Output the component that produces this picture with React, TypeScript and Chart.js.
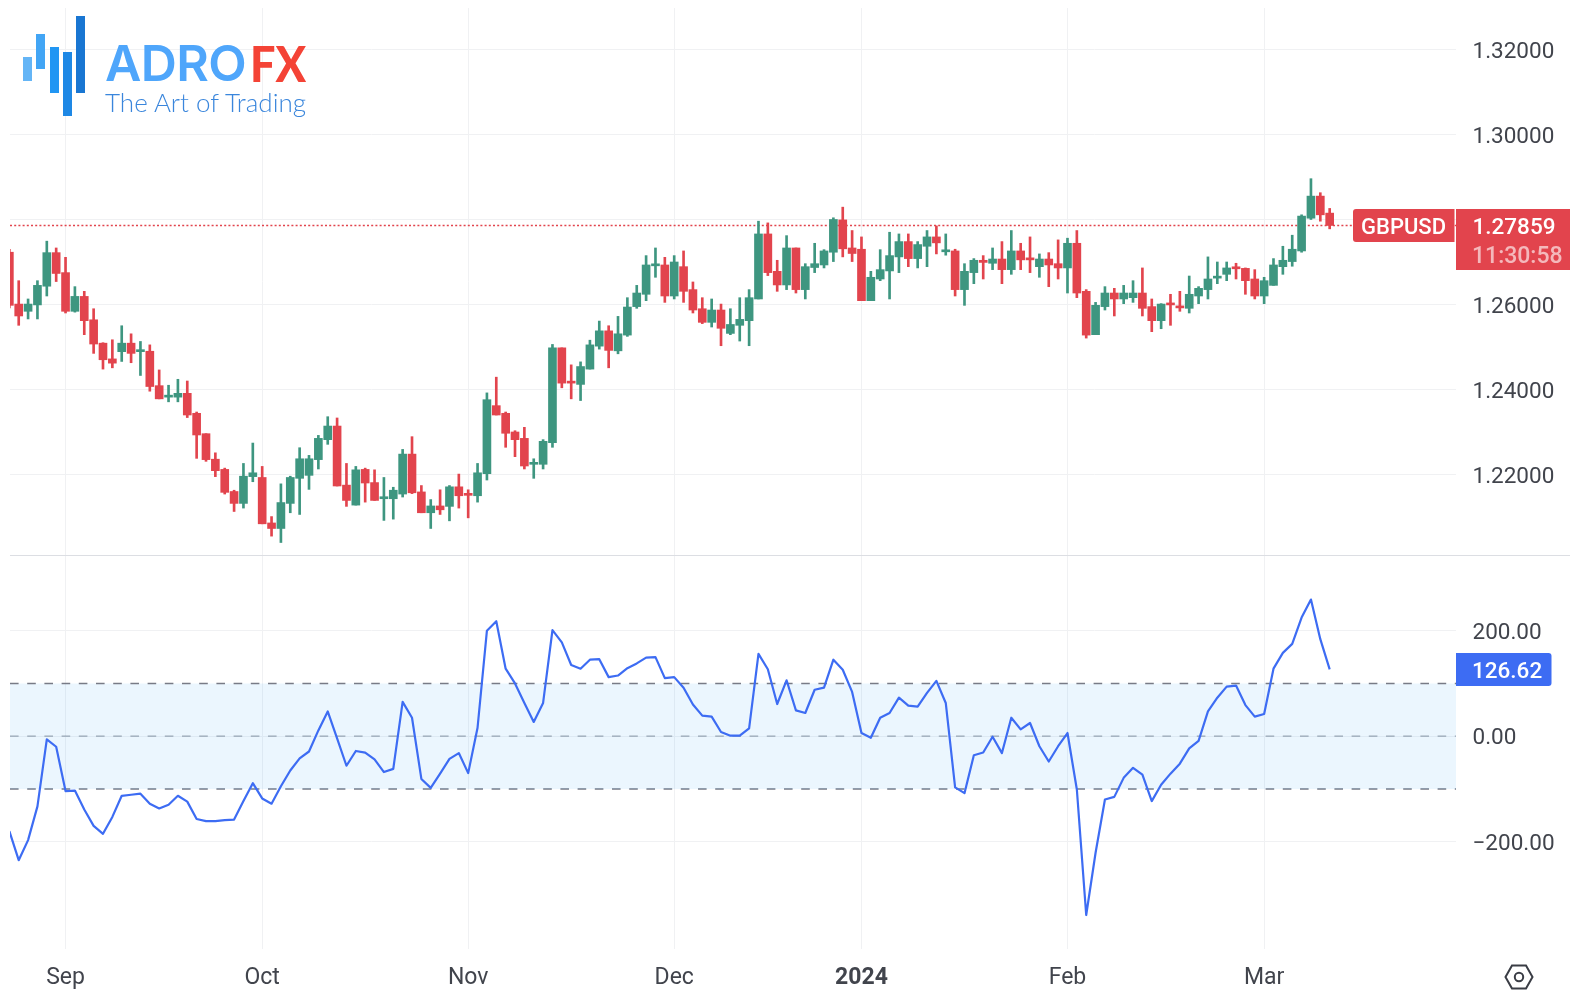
import React, { useEffect, useRef } from "react";
import { Chart, registerables } from "chart.js";

Chart.register(...registerables);

// Daily GBPUSD candles
const opens = [1.2723,1.2601,1.2584,1.2599,1.2643,1.2722,1.2675,1.2584,1.2619,1.2564,1.2509,1.2472,1.2489,1.2509,1.2489,1.2490,1.2409,1.2382,1.2382,1.2391,1.2344,1.2296,1.2236,1.2212,1.2160,1.2132,1.2195,1.2193,1.2086,1.2073,1.2132,1.2191,1.2198,1.2235,1.2282,1.2314,1.2175,1.2128,1.2212,1.2181,1.2143,1.2143,1.2154,1.2248,1.2159,1.2110,1.2126,1.2125,1.2171,1.2153,1.2150,1.2202,1.2362,1.2344,1.2300,1.2285,1.2224,1.2224,1.2275,1.2498,1.2417,1.2412,1.2448,1.2502,1.2538,1.2491,1.2528,1.2595,1.2624,1.2691,1.2693,1.2620,1.2689,1.2635,1.2590,1.2558,1.2587,1.2532,1.2551,1.2562,1.2613,1.2766,1.2678,1.2646,1.2733,1.2635,1.2687,1.2693,1.2723,1.2799,1.2733,1.2730,1.2609,1.2660,1.2679,1.2712,1.2748,1.2708,1.2737,1.2759,1.2724,1.2726,1.2635,1.2675,1.2704,1.2697,1.2707,1.2682,1.2726,1.2707,1.2689,1.2707,1.2696,1.2686,1.2744,1.2631,1.2529,1.2595,1.2627,1.2613,1.2616,1.2627,1.2595,1.2562,1.2602,1.2595,1.2591,1.2620,1.2635,1.2662,1.2671,1.2686,1.2685,1.2660,1.2620,1.2645,1.2689,1.2701,1.2726,1.2803,1.2855,1.2815];
const highs = [1.2730,1.2656,1.2613,1.2656,1.2749,1.2733,1.2711,1.2642,1.2631,1.2590,1.2510,1.2517,1.2550,1.2531,1.2513,1.2505,1.2446,1.2410,1.2424,1.2420,1.2347,1.2296,1.2251,1.2215,1.2163,1.2226,1.2274,1.2219,1.2101,1.2178,1.2196,1.2263,1.2245,1.2292,1.2336,1.2333,1.2226,1.2219,1.2215,1.2211,1.2193,1.2170,1.2259,1.2289,1.2174,1.2141,1.2164,1.2174,1.2201,1.2164,1.2226,1.2392,1.2429,1.2347,1.2303,1.2311,1.2237,1.2282,1.2506,1.2498,1.2458,1.2465,1.2516,1.2561,1.2550,1.2572,1.2616,1.2645,1.2715,1.2733,1.2711,1.2715,1.2726,1.2653,1.2616,1.2613,1.2601,1.2590,1.2616,1.2635,1.2796,1.2792,1.2704,1.2762,1.2733,1.2696,1.2744,1.2729,1.2804,1.2829,1.2774,1.2759,1.2678,1.2729,1.2770,1.2766,1.2766,1.2748,1.2774,1.2785,1.2766,1.2730,1.2696,1.2708,1.2715,1.2733,1.2748,1.2774,1.2744,1.2759,1.2719,1.2722,1.2752,1.2756,1.2774,1.2635,1.2605,1.2642,1.2638,1.2645,1.2656,1.2686,1.2613,1.2602,1.2624,1.2631,1.2667,1.2642,1.2712,1.2700,1.2700,1.2697,1.2686,1.2682,1.2664,1.2708,1.2737,1.2763,1.2811,1.2896,1.2863,1.2826];
const lows = [1.2592,1.2551,1.2566,1.2566,1.2620,1.2654,1.2580,1.2582,1.2529,1.2485,1.2448,1.2451,1.2466,1.2463,1.2433,1.2396,1.2378,1.2371,1.2371,1.2334,1.2238,1.2231,1.2195,1.2154,1.2113,1.2121,1.2183,1.2084,1.2055,1.2040,1.2110,1.2106,1.2165,1.2213,1.2271,1.2173,1.2125,1.2128,1.2135,1.2139,1.2092,1.2095,1.2147,1.2155,1.2110,1.2073,1.2106,1.2091,1.2121,1.2098,1.2135,1.2187,1.2340,1.2264,1.2242,1.2213,1.2191,1.2213,1.2264,1.2404,1.2378,1.2374,1.2448,1.2495,1.2451,1.2484,1.2525,1.2591,1.2609,1.2664,1.2605,1.2613,1.2605,1.2580,1.2555,1.2547,1.2503,1.2529,1.2514,1.2503,1.2613,1.2668,1.2631,1.2635,1.2627,1.2613,1.2675,1.2686,1.2701,1.2712,1.2701,1.2609,1.2609,1.2656,1.2613,1.2675,1.2689,1.2686,1.2689,1.2719,1.2716,1.2620,1.2598,1.2649,1.2660,1.2682,1.2649,1.2671,1.2682,1.2675,1.2664,1.2642,1.2660,1.2627,1.2616,1.2521,1.2529,1.2587,1.2573,1.2602,1.2605,1.2573,1.2536,1.2543,1.2551,1.2584,1.2580,1.2602,1.2613,1.2649,1.2656,1.2660,1.2624,1.2613,1.2602,1.2645,1.2671,1.2690,1.2723,1.2800,1.2796,1.2778];
const closes = [1.2598,1.2573,1.2601,1.2645,1.2722,1.2673,1.2584,1.2619,1.2562,1.2507,1.2470,1.2462,1.2509,1.2485,1.2491,1.2407,1.2378,1.2384,1.2391,1.2340,1.2293,1.2235,1.2209,1.2158,1.2132,1.2196,1.2204,1.2084,1.2073,1.2134,1.2193,1.2237,1.2237,1.2285,1.2314,1.2173,1.2139,1.2211,1.2180,1.2139,1.2144,1.2163,1.2248,1.2157,1.2110,1.2126,1.2117,1.2171,1.2150,1.2151,1.2204,1.2376,1.2340,1.2297,1.2282,1.2220,1.2227,1.2278,1.2498,1.2415,1.2415,1.2454,1.2505,1.2538,1.2492,1.2531,1.2594,1.2627,1.2693,1.2693,1.2620,1.2700,1.2631,1.2587,1.2558,1.2587,1.2544,1.2553,1.2565,1.2616,1.2766,1.2675,1.2646,1.2733,1.2635,1.2689,1.2696,1.2726,1.2800,1.2731,1.2720,1.2609,1.2664,1.2682,1.2715,1.2748,1.2708,1.2741,1.2759,1.2745,1.2726,1.2635,1.2678,1.2704,1.2699,1.2707,1.2682,1.2726,1.2705,1.2705,1.2707,1.2693,1.2686,1.2744,1.2627,1.2528,1.2598,1.2627,1.2613,1.2627,1.2627,1.2591,1.2562,1.2601,1.2599,1.2592,1.2624,1.2638,1.2660,1.2664,1.2686,1.2684,1.2656,1.2620,1.2656,1.2693,1.2704,1.2730,1.2808,1.2855,1.2811,1.27859];

// CCI indicator
const cci = [-180,-235,-197,-133,-6,-20,-104,-103,-139,-170,-185,-153,-113,-111,-109,-128,-137,-130,-113,-124,-157,-161,-161,-159,-158,-123,-89,-118,-128,-95,-65,-42,-29,11,47,-4,-56,-28,-31,-44,-68,-62,65,35,-81,-98,-71,-43,-32,-70,16,200,218,128,100,63,27,63,201,178,135,128,145,146,112,115,129,138,149,150,110,112,92,60,39,37,8,1,1,15,156,127,61,106,49,44,88,92,145,126,84,6,-3,35,44,73,58,56,82,105,63,-97,-108,-36,-31,-1,-32,35,13,25,-19,-48,-19,6,-101,-339,-221,-120,-115,-79,-60,-73,-123,-92,-71,-52,-23,-9,47,73,94,96,59,37,42,128,158,175,225,259,184,126.62];

const priceTicks = [1.22, 1.24, 1.26, 1.28, 1.3, 1.32];
const cciTicks = [-200, 0, 200];
const bandLevels = [100, 0, -100];
const monthTicks = [6, 27, 49, 71, 91, 113, 134];
const monthLabels = ["Sep", "Oct", "Nov", "Dec", "2024", "Feb", "Mar"];

const symbol = "GBPUSD";
const lastPrice = 1.27859;
const countdown = "11:30:58";
const lastCci = 126.62;

const UP = "#3e9680";
const DOWN = "#e2444d";
const GRID = "#f0f1f3";
const TEXT = "#41444c";
const FONT = "Roboto, sans-serif";
const BLUE = "#3d6cf3";

const X_MIN = 0.069;
const X_MAX = 154.49;

const noPadding = (s: any) => {
  s.paddingTop = 0;
  s.paddingBottom = 0;
  s.paddingLeft = 0;
  s.paddingRight = 0;
};

const xBase = (extra: any, height: number) => ({
  type: "linear",
  min: X_MIN,
  max: X_MAX,
  offset: false,
  afterBuildTicks: (s: any) => {
    s.ticks = monthTicks.map((v) => ({ value: v }));
  },
  afterFit: (s: any) => {
    noPadding(s);
    s.height = height;
  },
  grid: { color: GRID, lineWidth: 1, drawTicks: false, offset: false },
  border: { display: false },
  ...extra,
});

const yBase = (min: number, max: number, ticks: number[], fmt: (v: number) => string) => ({
  type: "linear",
  position: "right",
  min,
  max,
  afterBuildTicks: (s: any) => {
    s.ticks = ticks.map((v) => ({ value: v }));
  },
  afterFit: (s: any) => {
    noPadding(s);
    s.width = 118;
  },
  grid: { color: GRID, lineWidth: 1, drawTicks: false },
  border: { display: false },
  ticks: {
    callback: (v: any) => fmt(Number(v)),
    color: TEXT,
    font: { family: FONT, size: 22.5 },
    padding: 16.5,
    labelOffset: 2.5,
    autoSkip: false,
  },
});

function tag(ctx: any, x: number, y: number, w: number, h: number, r: any, color: string) {
  ctx.fillStyle = color;
  ctx.beginPath();
  ctx.roundRect(x, y, w, h, r);
  ctx.fill();
}

const priceTagPlugin = {
  id: "priceTag",
  afterDraw(chart: any) {
    const { ctx, scales } = chart;
    const y = scales.y.getPixelForValue(lastPrice);
    ctx.save();
    tag(ctx, 1353, y - 16.5, 101.5, 33, [3, 0, 0, 3], DOWN);
    tag(ctx, 1456, y - 16.5, 114, 61, 0, DOWN);
    ctx.textBaseline = "middle";
    ctx.textAlign = "left";
    ctx.font = `500 22px ${FONT}`;
    ctx.fillStyle = "#ffffff";
    ctx.fillText(symbol, 1361, y + 3);
    ctx.font = `500 22.5px ${FONT}`;
    ctx.fillText(lastPrice.toFixed(5), 1472.5, y + 3);
    ctx.font = `500 23px ${FONT}`;
    ctx.fillStyle = "rgba(255,255,255,0.62)";
    ctx.fillText(countdown, 1472, y + 32);
    ctx.restore();
  },
};

const cciTagPlugin = {
  id: "cciTag",
  afterDraw(chart: any) {
    const { ctx, scales } = chart;
    const y = scales.y.getPixelForValue(lastCci);
    ctx.save();
    tag(ctx, 1456, y - 16.5, 95.5, 33, [0, 3, 3, 0], BLUE);
    ctx.textBaseline = "middle";
    ctx.textAlign = "left";
    ctx.font = `500 22.5px ${FONT}`;
    ctx.fillStyle = "#ffffff";
    ctx.fillText(lastCci.toFixed(2), 1472, y + 3);
    ctx.restore();
  },
};

export default function App() {
  const topRef = useRef<HTMLCanvasElement>(null);
  const botRef = useRef<HTMLCanvasElement>(null);

  useEffect(() => {
    const colors = opens.map((o, i) => (closes[i] >= o ? UP : DOWN));
    const top = new Chart(topRef.current as any, {
      type: "bar",
      plugins: [priceTagPlugin],
      data: {
        datasets: [
          {
            type: "line",
            data: [
              { x: X_MIN, y: lastPrice },
              { x: X_MAX, y: lastPrice },
            ],
            borderColor: DOWN,
            borderWidth: 1.5,
            borderDash: [2, 2.2],
            pointRadius: 0,
            order: 3,
          },
          {
            data: highs.map((h, i) => ({ x: i, y: [lows[i], h] })),
            backgroundColor: colors,
            borderWidth: 0,
            barThickness: 2,
            grouped: false,
            order: 2,
          },
          {
            data: opens.map((o, i) => ({ x: i, y: [o, closes[i]] })),
            backgroundColor: colors,
            borderWidth: 0,
            barThickness: 8,
            minBarLength: 2,
            grouped: false,
            order: 1,
          },
        ],
      } as any,
      options: {
        responsive: false,
        animation: false,
        layout: { padding: { left: 10, top: 8, right: 0, bottom: 0 } },
        plugins: { legend: { display: false }, tooltip: { enabled: false } },
        scales: {
          x: xBase({ ticks: { display: false } }, 0),
          y: yBase(1.20106, 1.32976, priceTicks, (v) => v.toFixed(5)),
        },
      } as any,
    });

    const bot = new Chart(botRef.current as any, {
      type: "line",
      plugins: [cciTagPlugin],
      data: {
        datasets: [
          {
            data: cci.map((v, i) => ({ x: i, y: v })),
            borderColor: BLUE,
            borderWidth: 2.2,
            borderJoinStyle: "round",
            pointRadius: 0,
            tension: 0,
            order: 1,
          },
          {
            data: [
              { x: X_MIN, y: bandLevels[0] },
              { x: X_MAX, y: bandLevels[0] },
            ],
            borderColor: "#787b86",
            borderWidth: 1.5,
            borderDash: [8.6, 8.6],
            pointRadius: 0,
            backgroundColor: "rgba(33,150,243,0.09)",
            fill: { target: "+2" },
            order: 2,
          },
          {
            data: [
              { x: X_MIN, y: bandLevels[1] },
              { x: X_MAX, y: bandLevels[1] },
            ],
            borderColor: "rgba(120,123,134,0.65)",
            borderWidth: 1.3,
            borderDash: [8.6, 8.6],
            pointRadius: 0,
            order: 2,
          },
          {
            data: [
              { x: X_MIN, y: bandLevels[2] },
              { x: X_MAX, y: bandLevels[2] },
            ],
            borderColor: "#787b86",
            borderWidth: 1.5,
            borderDash: [8.6, 8.6],
            pointRadius: 0,
            order: 2,
          },
        ],
      } as any,
      options: {
        responsive: false,
        animation: false,
        layout: { padding: { left: 10, top: 0, right: 0, bottom: 0 } },
        plugins: { legend: { display: false }, tooltip: { enabled: false } },
        scales: {
          x: xBase(
            {
              ticks: {
                callback: (v: any) => {
                  const k = monthTicks.indexOf(Number(v));
                  return k >= 0 ? monthLabels[k] : "";
                },
                color: TEXT,
                autoSkip: false,
                maxRotation: 0,
                padding: 15,
                font: (c: any) => ({
                  family: FONT,
                  size: 23,
                  weight: c.tick && c.tick.value === monthTicks[4] ? "bold" : "normal",
                }),
              },
            },
            53
          ),
          y: yBase(-403.4, 341.6, cciTicks, (v) =>
            v < 0 ? "\u2212" + Math.abs(v).toFixed(2) : v.toFixed(2)
          ),
        },
      } as any,
    });
    return () => {
      top.destroy();
      bot.destroy();
    };
  }, []);

  const bar = (x: number, y: number, w: number, h: number, c: string) => (
    <div style={{ position: "absolute", left: x, top: y, width: w, height: h, background: c }} />
  );

  return (
    <div style={{ position: "absolute", left: 0, top: 0, width: 1574, height: 1002, overflow: "hidden", background: "#fff" }}>
      <canvas ref={topRef} width={1574} height={555} style={{ position: "absolute", left: 0, top: 0, display: "block" }} />
      <canvas ref={botRef} width={1574} height={446} style={{ position: "absolute", left: 0, top: 556, display: "block" }} />
      <div style={{ position: "absolute", left: 10, top: 555, width: 1560, height: 1, background: "#dcdee3" }} />
      {bar(23, 57, 9, 24, "#64b5f6")}
      {bar(36, 34, 9, 35, "#42a5f5")}
      {bar(50, 47, 9, 46, "#2196f3")}
      {bar(63, 52, 9, 64, "#1e88e5")}
      {bar(76, 16, 9, 77, "#1976d2")}
      <div
        style={{
          position: "absolute",
          left: 105,
          top: 33,
          fontFamily: "Inter, sans-serif",
          fontWeight: 600,
          fontSize: 50,
          letterSpacing: -0.6,
          lineHeight: "60px",
          whiteSpace: "nowrap",
          color: "#4fa6fb",
        }}
      >
        ADRO
      </div>
      <div
        style={{
          position: "absolute",
          left: 250,
          top: 33,
          fontFamily: "Lato, sans-serif",
          fontWeight: 900,
          fontSize: 50,
          lineHeight: "60px",
          whiteSpace: "nowrap",
          color: "#f44336",
          transform: "scaleX(0.9)",
          transformOrigin: "left center",
        }}
      >
        FX
      </div>
      <div
        style={{
          position: "absolute",
          left: 105,
          top: 87,
          fontFamily: "Lato, sans-serif",
          fontWeight: 300,
          fontSize: 26,
          lineHeight: "30px",
          whiteSpace: "nowrap",
          color: "#3a86dc",
        }}
      >
        The Art of Trading
      </div>
      <svg style={{ position: "absolute", left: 1503, top: 961 }} width={32} height={32} viewBox="0 0 32 32">
        <polygon points="2.5,16 9,4.5 23,4.5 29.5,16 23,27.5 9,27.5" fill="none" stroke="#3a3d45" strokeWidth={2} />
        <circle cx={16} cy={16} r={4.2} fill="none" stroke="#3a3d45" strokeWidth={2} />
      </svg>
    </div>
  );
}
